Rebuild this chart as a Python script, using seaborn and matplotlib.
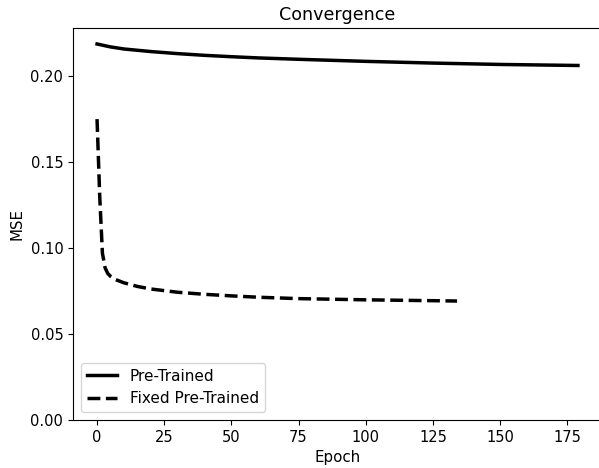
import matplotlib
matplotlib.use("Agg")
import matplotlib.pyplot as plt
import seaborn as sns
import pandas as pd

# Pre-Trained series (epoch, MSE)
pre_epochs = [0, 5, 10, 20, 30, 40, 50, 60, 75, 100, 125, 150, 179]
pre_mse = [0.2187, 0.2170, 0.2158, 0.2143, 0.2131, 0.2121, 0.2113, 0.2106, 0.2098, 0.2086, 0.2076, 0.2068, 0.2062]

# Fixed Pre-Trained series
fix_epochs = [0, 1, 2, 3, 4, 5, 7, 10, 15, 20, 30, 40, 50, 60, 75, 100, 120, 134]
fix_mse = [0.175, 0.130, 0.097, 0.0885, 0.0852, 0.0836, 0.0816, 0.0798, 0.0777, 0.0762, 0.0743, 0.0731, 0.0722, 0.0714, 0.0706, 0.0699, 0.0695, 0.0692]

series_names = ["Pre-Trained", "Fixed Pre-Trained"]

df = pd.concat([
    pd.DataFrame({"Epoch": pre_epochs, "MSE": pre_mse, "Model": series_names[0]}),
    pd.DataFrame({"Epoch": fix_epochs, "MSE": fix_mse, "Model": series_names[1]}),
], ignore_index=True)

fig = plt.figure(figsize=(5.99, 4.68), dpi=100)
ax = fig.add_axes([73 / 599, 48 / 468, (602 - 73) / 599, 392 / 468])

sns.lineplot(data=df, x="Epoch", y="MSE", hue="Model", style="Model",
             palette={series_names[0]: "black", series_names[1]: "black"},
             dashes={series_names[0]: "", series_names[1]: (3.7, 1.6)},
             linewidth=2.5, ax=ax)

ax.set_xlim(-8.95, 187.95)
ax.set_ylim(0, 0.228)
ax.set_xticks([0, 25, 50, 75, 100, 125, 150, 175])
ax.set_yticks([0.0, 0.05, 0.10, 0.15, 0.20])
ax.tick_params(labelsize=10.5)
ax.set_title("Convergence", fontsize=12.6)
ax.set_xlabel("Epoch", fontsize=10.8)
ax.set_ylabel("MSE", fontsize=10.8)
leg = ax.legend(loc="lower left", title=None, fontsize=11)

fig.savefig("out.png", dpi=100)
